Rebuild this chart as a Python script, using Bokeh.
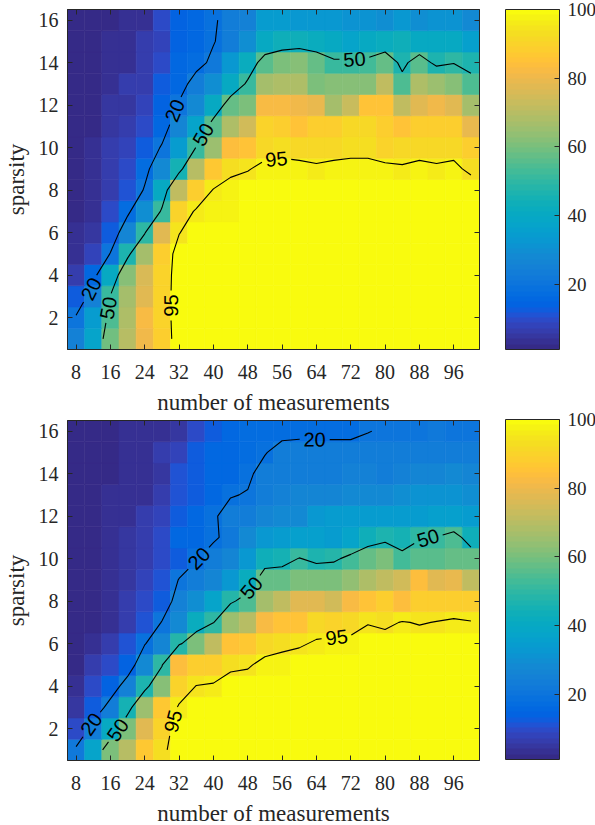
import numpy as np
from contourpy import contour_generator
from bokeh.plotting import figure
from bokeh.models import ColumnDataSource, LinearColorMapper, ColorBar, FixedTicker, LinearAxis
from bokeh.layouts import row, column
from bokeh.embed import file_html
from bokeh.resources import INLINE
from bokeh.core.properties import value

# ---------------- data ----------------
measurements = [8, 12, 16, 20, 24, 28, 32, 36, 40, 44, 48, 52, 56, 60, 64, 68, 72, 76, 80, 84, 88, 92, 96, 100]
sparsity = [1, 2, 3, 4, 5, 6, 7, 8, 9, 10, 11, 12, 13, 14, 15, 16]
x_ticks = [8, 16, 24, 32, 40, 48, 56, 64, 72, 80, 88, 96]
y_ticks = [2, 4, 6, 8, 10, 12, 14, 16]
cbar_ticks = [20, 40, 60, 80, 100]
contour_levels = [20, 50, 95]

# success rate (%), one list per sparsity value 1..16, columns = measurements
success_top = [
    [25, 38, 59, 70, 80, 89, 99.5, 100, 100, 100, 100, 100, 100, 100, 100, 100, 100, 100, 100, 100, 100, 100, 100, 100],
    [21, 35, 54, 68, 82, 90, 99.5, 100, 100, 100, 100, 100, 100, 100, 100, 100, 100, 100, 100, 100, 100, 100, 100, 100],
    [12, 25, 50.5, 66, 78, 90, 99.5, 100, 100, 100, 100, 100, 100, 100, 100, 100, 100, 100, 100, 100, 100, 100, 100, 100],
    [6, 15, 40, 62, 76, 90, 99, 100, 100, 100, 100, 100, 100, 100, 100, 100, 100, 100, 100, 100, 100, 100, 100, 100],
    [4, 8, 20.5, 47, 66, 88, 99, 100, 100, 100, 100, 100, 100, 100, 100, 100, 100, 100, 100, 100, 100, 100, 100, 100],
    [3, 5, 13, 27, 49, 78, 94.6, 100, 100, 100, 100, 100, 100, 100, 100, 100, 100, 100, 100, 100, 100, 100, 100, 100],
    [2, 4, 9, 18, 30, 52, 90, 96, 97, 98, 99, 100, 100, 100, 100, 100, 100, 100, 100, 100, 100, 100, 100, 100],
    [1, 4, 6, 11, 21, 40, 72, 88, 95.5, 98, 99, 99, 100, 100, 100, 100, 100, 100, 100, 100, 100, 100, 100, 100],
    [1, 4, 7, 10, 17, 28, 45, 70, 87, 93, 94.5, 97, 97, 97, 96, 97, 97, 97, 97, 96, 97, 96, 97, 93],
    [1, 3, 6, 8, 13, 21, 35, 50.5, 65, 83, 86, 92, 93, 92, 92, 92, 93, 93, 90, 91, 92, 92, 92, 89],
    [1, 2, 5, 6, 9, 15, 27, 38, 56, 68, 75, 90, 88, 86, 89, 89, 91, 91, 89, 86, 89, 89, 89, 79],
    [1, 2, 5, 5, 8, 14, 21, 28, 40, 57, 60, 82, 82, 81, 79, 67, 73, 85, 86, 72, 78, 80, 78, 67],
    [1, 2, 3, 6, 7, 12, 16, 24, 30, 40, 52, 67, 68, 68, 60, 62, 62, 62, 72, 54, 68, 65, 62, 54],
    [1, 2, 3, 4, 7, 10, 15, 17, 22, 32, 42, 56, 60, 62, 58, 52, 52, 53, 58, 47, 56, 47, 49.5, 46],
    [1, 1, 3, 4, 7, 8, 14, 16, 19.5, 24, 30, 40, 43, 44, 42, 40, 38, 40, 42, 44, 40, 40, 40, 36],
    [1, 2, 2, 3, 4, 9, 14, 16, 19, 23, 25, 34, 34, 33, 33, 32, 31, 31, 30, 33, 30, 31, 31, 28],
]

success_bottom = [
    [22, 38, 60, 70, 87, 93, 99.5, 100, 100, 100, 100, 100, 100, 100, 100, 100, 100, 100, 100, 100, 100, 100, 100, 100],
    [9, 24, 40, 60, 78, 90, 99.5, 100, 100, 100, 100, 100, 100, 100, 100, 100, 100, 100, 100, 100, 100, 100, 100, 100],
    [5, 13, 24, 45, 65, 87, 96, 100, 100, 100, 100, 100, 100, 100, 100, 100, 100, 100, 100, 100, 100, 100, 100, 100],
    [3, 9, 14, 25, 46, 62, 90, 95.2, 96, 99, 99, 100, 100, 100, 100, 100, 100, 100, 100, 100, 100, 100, 100, 100],
    [2, 6, 10, 14, 28, 49, 83, 88, 89, 93, 94, 97.5, 98, 99, 99.5, 100, 100, 100, 100, 100, 100, 100, 100, 100],
    [1, 3, 7, 11, 19.5, 27, 48, 60, 72, 85, 87, 91, 93, 94, 96, 97, 97.5, 99, 99, 99, 99, 99.5, 99.5, 99.5],
    [1, 2, 4, 7, 11, 20.5, 28, 42, 49.5, 65, 70, 82, 86, 86, 91, 90, 91, 94.5, 93, 95.5, 94.4, 95.3, 96.5, 95.5],
    [1, 2, 4, 6, 10, 13, 25, 30, 38, 48, 55, 66, 72, 77, 77, 75, 82, 86, 88, 84, 89, 89, 88, 88],
    [1, 2, 3, 5, 8, 11, 20.5, 24, 27, 32, 42, 57, 58, 60, 60, 60, 63, 68, 72, 74, 84, 78, 79, 72],
    [1, 2, 3, 5, 7, 9, 13, 19.5, 23, 27, 32, 44, 45, 50.5, 47, 48, 53, 58, 60, 53, 56, 56, 58, 57],
    [1, 2, 3, 5, 7, 10, 15, 16, 19, 22, 28, 32, 35, 36, 36, 35, 38, 44, 47, 45, 49, 50.5, 55, 44],
    [1, 2, 3, 4, 6, 8, 13, 15, 19, 23, 24, 27, 28, 28, 33, 34, 34, 35, 35, 34, 35, 36, 36, 35],
    [1, 1, 3, 4, 4, 6, 11, 13, 15, 19.5, 20.5, 24, 25, 26, 27, 27, 28, 28, 28, 30, 31, 31, 31, 30],
    [1, 1, 2, 4, 4, 5, 11, 13, 15, 16, 18.5, 23, 23, 23, 24, 24, 25, 25, 24, 25, 26, 27, 28, 26],
    [2, 2, 2, 4, 4, 6, 8, 12, 15, 16, 17, 19.5, 23, 24, 23, 23, 23, 23, 23, 23, 24, 24, 24, 23],
    [1, 1, 1, 3, 3, 3, 5, 9, 13, 16, 17, 17, 17.5, 17.5, 18, 18, 18, 19.7, 21, 21, 21, 22, 21, 21],
]

# approximate spots (data coords) where the contour labels sit
label_spots_top = {20: [(11.1, 3.4), (30.9, 11.75)],
                   50: [(15.5, 2.45), (37.2, 10.66), (72.9, 14.1)],
                   95: [(29.8, 2.57), (54.7, 9.4)]}
label_spots_bottom = {20: [(11.6, 2.2), (36.1, 10.1), (63.6, 15.6)],
                      50: [(17.0, 2.05), (48.4, 8.69), (90.1, 10.9)],
                      95: [(30.7, 2.34), (68.7, 6.29)]}

# ---------------- style ----------------
PARULA = ["#352a87", "#363093", "#3637a0", "#353dad", "#3243ba", "#2c4ac7", "#2053d4", "#0f5cdd",
          "#0363e1", "#0268e1", "#046de0", "#0871de", "#0d75dc", "#1079da", "#127dd8", "#1481d6",
          "#1485d4", "#1389d3", "#108ed2", "#0c93d2", "#0998d1", "#079ccf", "#06a0cd", "#06a4ca",
          "#06a7c6", "#07a9c2", "#0aacbe", "#0faeb9", "#15b1b4", "#1db3af", "#25b5a9", "#2eb7a4",
          "#38b99e", "#42bb98", "#4dbc92", "#59bd8c", "#65be86", "#71bf80", "#7cbf7b", "#87bf77",
          "#92bf73", "#9cbf6f", "#a5be6b", "#aebe67", "#b7bd64", "#c0bc60", "#c8bc5d", "#d1bb59",
          "#d9ba56", "#e1b952", "#e9b94e", "#f1b94a", "#f8bb44", "#fdbe3d", "#ffc337", "#fec832",
          "#fcce2e", "#fad32a", "#f7d826", "#f5de21", "#f5e41d", "#f5eb18", "#f6f313", "#f9fb0e"]
INK = "#262626"
SERIF = "Liberation Serif"
FRAME_W, FRAME_H = 412, 340
DX = measurements[1] - measurements[0]
X_RANGE = (measurements[0] - DX / 2, measurements[-1] + DX / 2)
Y_RANGE = (sparsity[0] - 0.5, sparsity[-1] + 0.5)
SX = FRAME_W / (X_RANGE[1] - X_RANGE[0])
SY = FRAME_H / (Y_RANGE[1] - Y_RANGE[0])
GAP = 15.0

mapper = LinearColorMapper(palette=PARULA,
                           low=min(min(r) for r in success_top + success_bottom),
                           high=max(max(r) for r in success_top + success_bottom))


def point_at(P, cum, s):
    s = min(max(s, 0.0), cum[-1])
    k = int(np.searchsorted(cum, s, side="right")) - 1
    k = min(max(k, 0), len(P) - 2)
    seg = cum[k + 1] - cum[k]
    t = 0.0 if seg == 0 else (s - cum[k]) / seg
    return P[k] + t * (P[k + 1] - P[k])


def contour_layer(Z, spots):
    gen = contour_generator(x=np.asarray(measurements, float), y=np.asarray(sparsity, float),
                            z=np.asarray(Z, float))
    scale = np.array([SX, SY])
    line_xs, line_ys = [], []
    lab = dict(x=[], y=[], text=[], angle=[])
    for level in contour_levels:
        lines = [np.asarray(L, float) * scale for L in gen.lines(level) if len(L) > 1]
        cums = [np.concatenate([[0.0], np.cumsum(np.hypot(*np.diff(P, axis=0).T))]) for P in lines]
        cuts = [[] for _ in lines]
        for tx, ty in spots.get(level, []):
            q = np.array([tx, ty]) * scale
            best = None
            for li, (P, cum) in enumerate(zip(lines, cums)):
                for k in range(len(P) - 1):
                    d = P[k + 1] - P[k]
                    L2 = float(d @ d)
                    t = 0.0 if L2 == 0 else float(np.clip((q - P[k]) @ d / L2, 0, 1))
                    dist = float(np.hypot(*(P[k] + t * d - q)))
                    if best is None or dist < best[0]:
                        best = (dist, li, cum[k] + t * (cum[k + 1] - cum[k]))
            if best is None:
                continue
            _, li, s0 = best
            P, cum = lines[li], cums[li]
            a = point_at(P, cum, s0 - GAP)
            b = point_at(P, cum, s0 + GAP)
            c = point_at(P, cum, s0)
            ang = float(np.arctan2(b[1] - a[1], b[0] - a[0]))
            if ang > np.pi / 2 + 1e-6:
                ang -= np.pi
            elif ang <= -np.pi / 2 + 1e-6:
                ang += np.pi
            lab["x"].append(c[0] / SX)
            lab["y"].append(c[1] / SY)
            lab["text"].append(str(level))
            lab["angle"].append(ang)
            cuts[li].append((s0 - GAP, s0 + GAP))
        for P, cum, cl in zip(lines, cums, cuts):
            keep, start = [], 0.0
            for a_, b_ in sorted(cl):
                if a_ > start:
                    keep.append((start, a_))
                start = max(start, b_)
            if start < cum[-1]:
                keep.append((start, cum[-1]))
            for s_a, s_b in keep:
                if s_b - s_a < 1.0:
                    continue
                pts = [point_at(P, cum, s_a)] + [P[k] for k in range(len(P)) if s_a < cum[k] < s_b] \
                      + [point_at(P, cum, s_b)]
                pts = np.array(pts) / scale
                line_xs.append(list(pts[:, 0]))
                line_ys.append(list(pts[:, 1]))
    return line_xs, line_ys, lab


def style_axis(ax, label_size="20px"):
    ax.major_tick_in = 5
    ax.major_tick_out = 0
    ax.minor_tick_line_color = None
    ax.axis_line_color = INK
    ax.major_tick_line_color = INK
    ax.major_label_text_font = SERIF
    ax.major_label_text_font_size = label_size
    ax.major_label_text_color = INK
    ax.axis_label_text_font = SERIF
    ax.axis_label_text_font_size = "23px"
    ax.axis_label_text_font_style = "normal"
    ax.axis_label_text_color = INK


def heat_panel(Z, spots, top, bottom):
    p = figure(frame_width=FRAME_W, frame_height=FRAME_H, x_range=X_RANGE, y_range=Y_RANGE,
               output_backend="svg", toolbar_location=None,
               min_border_left=65, min_border_right=10, min_border_top=top, min_border_bottom=bottom)
    p.grid.visible = False
    p.outline_line_color = INK
    xs, ys, vs = [], [], []
    for j, s in enumerate(sparsity):
        for i, m in enumerate(measurements):
            xs.append(m)
            ys.append(s)
            vs.append(Z[j][i])
    src = ColumnDataSource(dict(x=xs, y=ys, rate=vs))
    p.rect(x="x", y="y", width=DX, height=1, source=src,
           fill_color={"field": "rate", "transform": mapper},
           line_color={"field": "rate", "transform": mapper}, line_width=0.6)

    lx, ly, lab = contour_layer(Z, spots)
    p.multi_line(xs=lx, ys=ly, line_color="black", line_width=1.1)
    p.text(x="x", y="y", text="text", angle="angle", source=ColumnDataSource(lab),
           text_font=value("Liberation Sans"), text_font_size="20px", text_color="black",
           text_align="center", text_baseline="middle")

    p.xaxis.ticker = FixedTicker(ticks=x_ticks)
    p.yaxis.ticker = FixedTicker(ticks=y_ticks)
    p.xaxis.axis_label = "number of measurements"
    p.yaxis.axis_label = "sparsity"
    style_axis(p.xaxis[0])
    style_axis(p.yaxis[0])
    p.xaxis.major_label_standoff = 15
    p.xaxis.axis_label_standoff = 8
    p.yaxis.major_label_standoff = 9
    p.yaxis.axis_label_standoff = 7

    top_ax = LinearAxis(ticker=FixedTicker(ticks=x_ticks),
                        major_label_overrides={t: "" for t in x_ticks})
    right_ax = LinearAxis(ticker=FixedTicker(ticks=y_ticks),
                          major_label_overrides={t: "" for t in y_ticks})
    for ax in (top_ax, right_ax):
        style_axis(ax, "1px")
        ax.major_label_standoff = 0
    p.add_layout(top_ax, "above")
    p.add_layout(right_ax, "right")
    return p


def cbar_panel(top, bottom):
    c = figure(frame_width=54, frame_height=FRAME_H, x_range=(0, 1), y_range=(0, 1),
               x_axis_type=None, y_axis_type=None, output_backend="svg", toolbar_location=None,
               min_border_left=16, min_border_right=38, min_border_top=top, min_border_bottom=bottom)
    c.outline_line_color = None
    c.grid.visible = False
    cb = ColorBar(color_mapper=mapper, ticker=FixedTicker(ticks=cbar_ticks), location="top_left",
                  orientation="vertical", width=54, height=FRAME_H, padding=0, margin=0,
                  major_tick_in=5, major_tick_out=0, major_tick_line_color=INK,
                  minor_tick_line_color=None, bar_line_color=INK, label_standoff=8,
                  major_label_text_font=SERIF, major_label_text_font_size="19px",
                  major_label_text_color=INK, background_fill_color=None)
    c.add_layout(cb)
    return c


fig_top = heat_panel(success_top, label_spots_top, top=9, bottom=67)
fig_bottom = heat_panel(success_bottom, label_spots_bottom, top=3, bottom=66)
cb_top = cbar_panel(top=9, bottom=56)
cb_bottom = cbar_panel(top=14, bottom=66)

layout = row(column(fig_top, fig_bottom), column(cb_top, cb_bottom))

with open("out.html", "w") as f:
    f.write(file_html(layout, INLINE))
